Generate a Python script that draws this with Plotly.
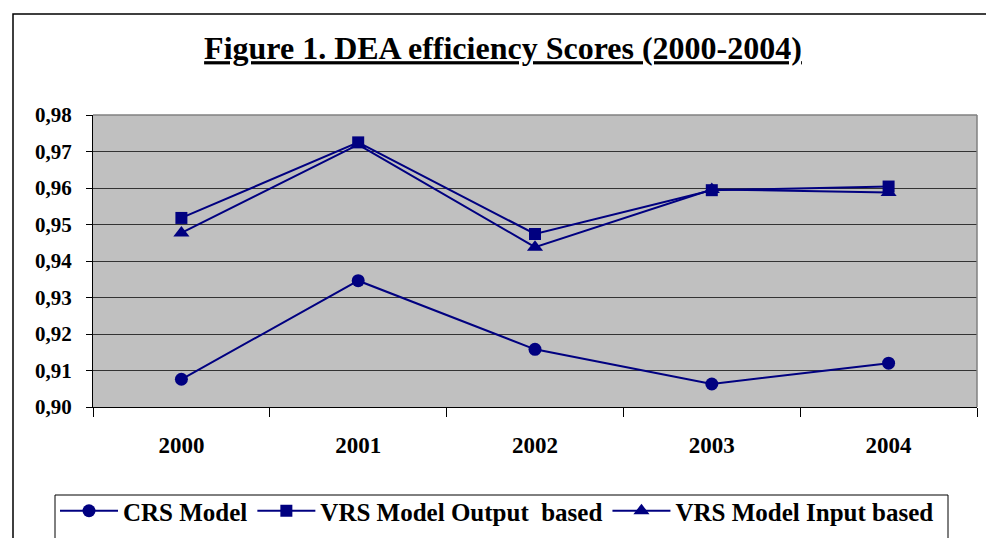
import plotly.graph_objects as go

years = ["2000", "2001", "2002", "2003", "2004"]
crs = [0.9076, 0.9346, 0.9158, 0.9063, 0.9120]
vrs_output = [0.9518, 0.9725, 0.9474, 0.9594, 0.9604]
vrs_input = [0.9477, 0.9719, 0.9438, 0.9596, 0.9588]
y_ticks = [0.90, 0.91, 0.92, 0.93, 0.94, 0.95, 0.96, 0.97, 0.98]
y_ticktext = ["0,90", "0,91", "0,92", "0,93", "0,94", "0,95", "0,96", "0,97", "0,98"]

NAVY = "#000080"
FONT = "Liberation Serif"

fig = go.Figure()
fig.add_trace(go.Scatter(x=years, y=crs, name="<b>CRS Model</b>", mode="lines+markers",
                         line=dict(color=NAVY, width=2), marker=dict(symbol="circle", size=13, color=NAVY)))
fig.add_trace(go.Scatter(x=years, y=vrs_output, name="<b>VRS Model Output  based</b>", mode="lines+markers",
                         line=dict(color=NAVY, width=2), marker=dict(symbol="square", size=12, color=NAVY)))
fig.add_trace(go.Scatter(x=years, y=vrs_input, name="<b>VRS Model Input based</b>", mode="lines+markers",
                         line=dict(color=NAVY, width=2), marker=dict(symbol="triangle-up", size=14, color=NAVY)))

L, R, T, B = 93, 977, 115, 407
W, H = 986, 538
pw, ph = R - L, B - T

def px_x(p):
    return (p - L) / pw

def px_y(p):
    return (B - p) / ph

fig.update_layout(
    width=W, height=H,
    margin=dict(l=L, r=W - R, t=T, b=H - B, autoexpand=False),
    paper_bgcolor="white",
    plot_bgcolor="#C0C0C0",
    font=dict(family=FONT, color="black"),
    title=dict(text="<b><u>Figure 1. DEA efficiency Scores (2000-2004)</u></b>",
               x=503 / W, xanchor="center", y=1 - 48 / H, yanchor="middle",
               font=dict(size=32, family=FONT, color="black")),
    showlegend=True,
    legend=dict(orientation="h", x=px_x(55), xanchor="left", y=px_y(488), yanchor="top",
                borderwidth=0, bgcolor="rgba(0,0,0,0)",
                font=dict(size=25, family=FONT, color="black"),
                itemwidth=58, tracegroupgap=0),
    xaxis=dict(type="category", tickson="boundaries", ticks="outside", ticklen=9,
               tickcolor="black", showline=True, linecolor="black", linewidth=1,
               showgrid=False, tickfont=dict(size=23, family=FONT, color="black"),
               tickprefix="<b>", ticksuffix="</b>", ticklabelstandoff=17,
               mirror=False, range=[-0.5, 4.5], automargin=False),
    yaxis=dict(range=[0.90, 0.98], tickvals=y_ticks, ticktext=["<b>%s</b>" % t for t in y_ticktext],
               ticks="outside", ticklen=6, tickcolor="black", showline=True,
               linecolor="black", linewidth=1, showgrid=True, gridcolor="#333333", gridwidth=1,
               tickfont=dict(size=21, family=FONT, color="black"), ticklabelstandoff=10,
               zeroline=False, automargin=False),
    shapes=[
        dict(type="rect", xref="paper", yref="paper", x0=px_x(13), x1=px_x(1000),
             y0=px_y(560), y1=px_y(14), line=dict(color="black", width=1.5), fillcolor="rgba(0,0,0,0)",
             layer="below"),
        dict(type="rect", xref="paper", yref="paper", x0=px_x(55), x1=px_x(948),
             y0=px_y(560), y1=px_y(495), line=dict(color="black", width=1), fillcolor="white",
             layer="below"),
        dict(type="line", xref="paper", yref="paper", x0=0, x1=1, y0=1, y1=1,
             line=dict(color="#808080", width=1.5)),
        dict(type="line", xref="paper", yref="paper", x0=1, x1=1, y0=0, y1=1,
             line=dict(color="#808080", width=1.5)),
    ],
)

fig.write_html("out.html", config={"displayModeBar": False},
               post_script="document.body.style.margin='0';document.body.style.overflow='hidden';")
